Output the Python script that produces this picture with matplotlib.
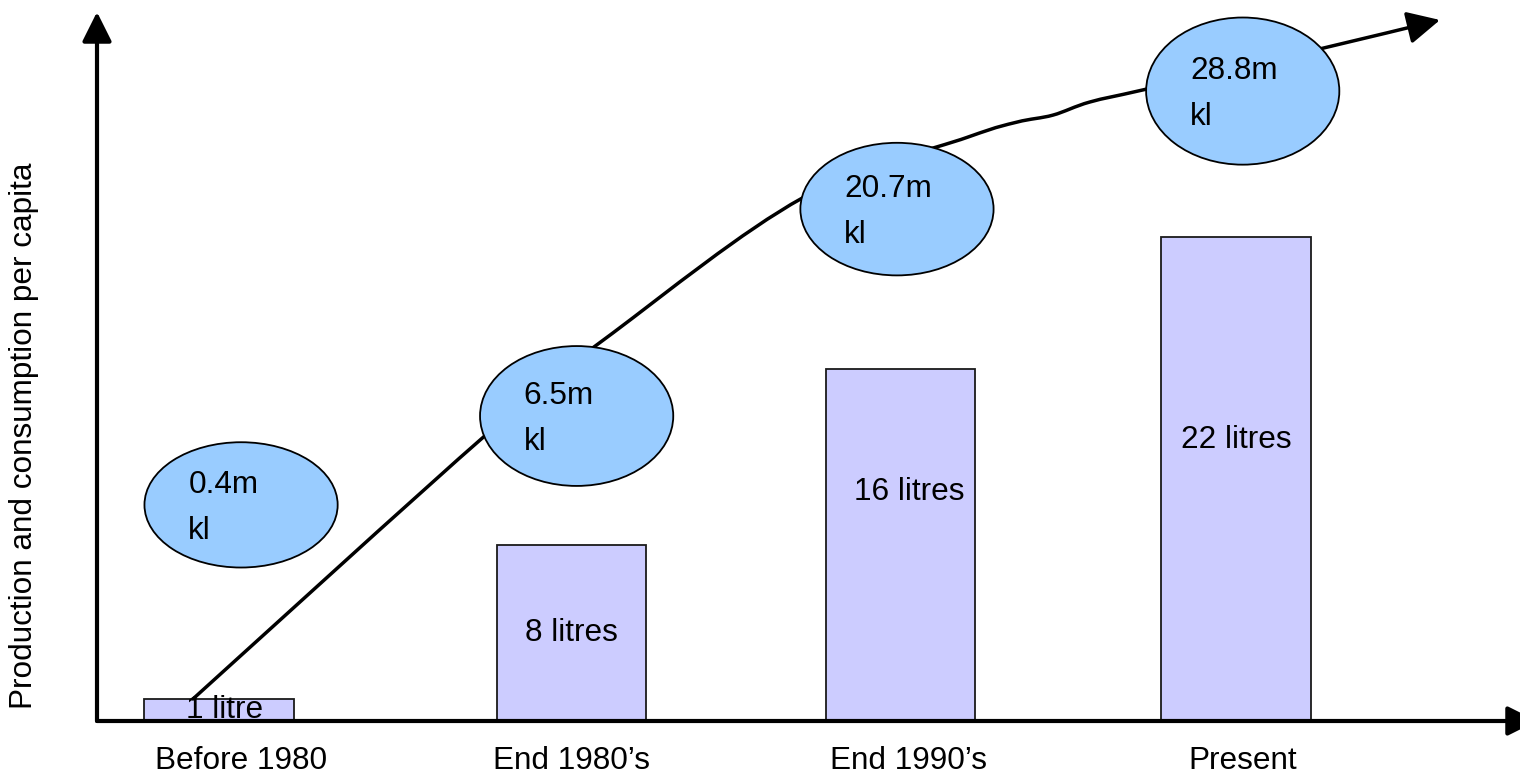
import matplotlib
matplotlib.use("Agg")
import numpy as np
import matplotlib.pyplot as plt
from matplotlib.patches import Ellipse, FancyArrowPatch
from matplotlib.path import Path

plt.rcParams['font.family'] = ['Liberation Sans', 'DejaVu Sans']

# data
periods = ["Before 1980", "End 1980\u2019s", "End 1990\u2019s", "Present"]
litres_per_capita = [1, 8, 16, 22]
production_mkl = [0.4, 6.5, 20.7, 28.8]

# layout
xpos = [0, 1.04, 2.01, 3.0]
tick_dx = [0.065, 0.0, 0.025, 0.02]
bar_w = 0.44
label_frac = [0.5, 0.5, 0.65, 0.58]
label_dx = [0.015, 0.0, 0.025, 0.0]
bubble_dx = [0.065, 0.015, -0.01, 0.02]
bubble_w = 0.57
bubble_h = [8.6, 9.6, 9.1, 10.1]

# hand-drawn trend arrow (after its start on the first bar), category / production units
trend_x = [0.7935, 1.162, 1.720, 2.209, 2.354, 2.460, 2.569, 2.737, 3.209, 3.602]
trend_y = [5.33, 12.20, 21.45, 25.64, 26.67, 27.15, 28.05, 28.94, 31.48, 33.68]

FS = 22.7
BAR_FILL = '#CCCCFF'
BUBBLE_FILL = '#99CCFF'


def smooth_path(pts):
    # Catmull-Rom through the points, written out as cubic Bezier segments
    pts = np.asarray(pts, dtype=float)
    ext = np.vstack([pts[0], pts, pts[-1]])
    verts = [pts[0]]
    codes = [Path.MOVETO]
    for i in range(1, len(ext) - 2):
        p0, p1, p2, p3 = ext[i - 1], ext[i], ext[i + 1], ext[i + 2]
        verts += [p1 + (p2 - p0) / 6, p2 - (p3 - p1) / 6, p2]
        codes += [Path.CURVE4] * 3
    return Path(verts, codes)


fig = plt.figure(figsize=(15.2, 7.75), dpi=100)
ax = fig.add_axes([97 / 1520, 54 / 775, 1423 / 1520, 721 / 775])
ax.set_xlim(-0.36, 3.838)
ax.set_ylim(0, 721 / 22)

ax.bar(xpos, litres_per_capita, width=bar_w, color=BAR_FILL,
       edgecolor='#1a1a1a', linewidth=1.3, zorder=2)
for x, dx, v, f in zip(xpos, label_dx, litres_per_capita, label_frac):
    unit = "litre" if v == 1 else "litres"
    ax.text(x + dx, v * f, f"{v} {unit}", ha='center', va='center', fontsize=FS, zorder=3)

for s in ax.spines.values():
    s.set_visible(False)
ax.set_yticks([])
ax.set_xticks([x + d for x, d in zip(xpos, tick_dx)], periods, fontsize=FS)
ax.tick_params(axis='x', length=0, pad=18)

# axis arrows
axis_arrow = dict(arrowstyle='-|>,head_length=0.9,head_width=0.45', lw=3,
                  color='black', shrinkA=0, shrinkB=0, mutation_scale=20)
ax.annotate('', xy=(0, 709 / 721), xytext=(0, 0), xycoords='axes fraction',
            arrowprops=axis_arrow, annotation_clip=False)
ax.annotate('', xy=((1537 - 97) / 1423, 0), xytext=(0, 0), xycoords='axes fraction',
            arrowprops=axis_arrow, annotation_clip=False)

# production layer on its own scale
ax2 = ax.twinx()
ax2.set_ylim(-210.3 / 14.57, 510.7 / 14.57)
ax2.set_axis_off()

start = ax2.transData.inverted().transform(
    ax.transData.transform((xpos[0] - 0.077, litres_per_capita[0])))
pts = [tuple(start)] + list(zip(trend_x, trend_y))
trend = FancyArrowPatch(path=smooth_path(pts),
                        arrowstyle='-|>,head_length=0.4,head_width=0.2',
                        mutation_scale=50, lw=2.5, color='black',
                        shrinkA=0, shrinkB=0, zorder=1,
                        transform=ax2.transData, clip_on=False)
ax2.add_patch(trend)

for x, dx, v, h in zip(xpos, bubble_dx, production_mkl, bubble_h):
    cx = x + dx
    ax2.add_patch(Ellipse((cx, v), bubble_w, h, facecolor=BUBBLE_FILL,
                          edgecolor='black', lw=1.3, zorder=3))
    ax2.annotate(f"{v}m", (cx, v), xytext=(-38, 14.5), textcoords='offset points',
                 ha='left', va='center', fontsize=FS, zorder=4)
    ax2.annotate("kl", (cx, v), xytext=(-38, -18.5), textcoords='offset points',
                 ha='left', va='center', fontsize=FS, zorder=4)

fig.text(24 / 1520, 1 - 436 / 775, "Production and consumption per capita",
         rotation=90, ha='center', va='center', fontsize=FS)

fig.savefig('out.png', dpi=100)
